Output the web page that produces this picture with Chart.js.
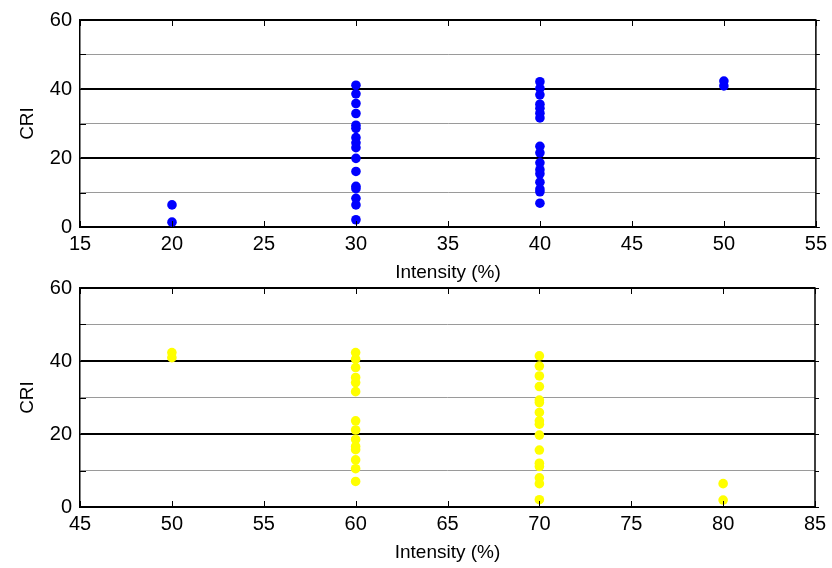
<!DOCTYPE html>
<html>
<head>
<meta charset="utf-8">
<script src="https://cdn.jsdelivr.net/npm/chart.js@4/dist/chart.umd.min.js"></script>
<style>
  body { margin: 0; background: #fff; }
  #wrap { position: relative; width: 832px; height: 568px; }
  .c { position: absolute; left: 0; }
  #c1 { top: 0; }
  #c2 { top: 264px; }
</style>
</head>
<body>
<div id="wrap">
  <div class="c" id="c1" style="width:832px;height:284px"><canvas id="g-top"></canvas></div>
  <div class="c" id="c2" style="width:832px;height:304px"><canvas id="g-bottom"></canvas></div>
</div>
<script>
// datos: CRI por nivel de intensidad
const xTicksTop = [15, 20, 25, 30, 35, 40, 45, 50, 55];
const xTicksBottom = [45, 50, 55, 60, 65, 70, 75, 80, 85];
const yTicks = [0, 10, 20, 30, 40, 50, 60];

// panel superior (azul)
const cri20 = [6.4, 1.4];
const cri30 = [41.1, 38.6, 35.8, 32.9, 29.5, 28.6, 25.9, 24.4, 23.0, 19.9, 16.1, 11.8, 11.1, 8.3, 6.4, 2.1];
const cri40 = [42.1, 40.2, 38.3, 35.6, 34.4, 33.0, 31.6, 23.4, 21.5, 18.6, 16.6, 15.4, 13.0, 11.0, 10.2, 6.9];
const cri50 = [42.3, 40.9];

// panel inferior (amarillo)
const cri50b = [42.3, 40.9];
const cri60 = [42.3, 40.5, 38.2, 35.5, 34.1, 31.6, 23.6, 21.1, 18.5, 16.6, 15.7, 12.9, 10.5, 7.0];
const cri70 = [41.4, 38.6, 35.9, 33.0, 29.3, 28.6, 25.9, 23.6, 22.7, 19.7, 15.6, 12.0, 11.1, 8.0, 6.4, 2.0];
const cri80 = [6.4, 1.9];

function pts(x, arr) { return arr.map(v => ({ x: x, y: v })); }

const bordes = {
  id: "bordes",
  afterDraw(chart) {
    const { ctx, chartArea: a, scales } = chart;
    ctx.save();
    ctx.strokeStyle = "#000";
    ctx.lineWidth = 1.5;
    ctx.beginPath();
    ctx.moveTo(a.left, a.top); ctx.lineTo(a.right, a.top); ctx.lineTo(a.right, a.bottom);
    ctx.stroke();
    ctx.lineWidth = 1;
    ctx.beginPath();
    scales.x.ticks.forEach(t => {
      const px = Math.round(scales.x.getPixelForValue(t.value)) + 0.5;
      ctx.moveTo(px, a.bottom); ctx.lineTo(px, a.bottom - 6);
      ctx.moveTo(px, a.top); ctx.lineTo(px, a.top + 6);
    });
    scales.y.ticks.forEach(t => {
      const py = Math.round(scales.y.getPixelForValue(t.value)) + 0.5;
      ctx.moveTo(a.left, py); ctx.lineTo(a.left + 6, py);
      ctx.moveTo(a.right, py); ctx.lineTo(a.right + 4, py);
    });
    ctx.stroke();
    ctx.restore();
  }
};

function crear(el, datasets, xmin, xmax, pad, xh) {
  return new Chart(document.getElementById(el), {
    type: "scatter",
    data: { datasets: datasets },
    plugins: [bordes],
    options: {
      responsive: true, maintainAspectRatio: false, animation: false,
      layout: { padding: pad },
      plugins: { legend: { display: false }, tooltip: { enabled: false } },
      scales: {
        x: {
          type: "linear", min: xmin, max: xmax,
          afterBuildTicks: s => { s.ticks = (xmin === 15 ? xTicksTop : xTicksBottom).map(v => ({ value: v })); },
          afterFit: s => { s.height = xh; },
          grid: { display: false, drawTicks: false },
          border: { color: "#000", width: 1.5 },
          ticks: { color: "#000", padding: 5, font: { family: "Liberation Sans", size: 20 } },
          title: { display: true, text: "Intensity (%)", color: "#000", padding: { top: 0, bottom: 0 },
                   font: { family: "Liberation Sans", size: 19 } }
        },
        y: {
          min: 0, max: 60,
          afterBuildTicks: s => { s.ticks = yTicks.map(v => ({ value: v })); },
          afterFit: s => { s.width = 80; },
          grid: {
            drawTicks: false,
            color: c => (c.tick && c.tick.value % 20 === 0) ? "#000" : "#9a9a9a",
            lineWidth: c => (c.tick && c.tick.value % 20 === 0) ? 2 : 1
          },
          border: { color: "#000", width: 1.5 },
          ticks: {
            color: "#000", padding: 8, font: { family: "Liberation Sans", size: 20 },
            callback: v => (v % 20 === 0 ? v : "")
          },
          title: { display: true, text: "CRI", color: "#000", padding: { top: 16, bottom: 0 },
                   font: { family: "Liberation Sans", size: 19 } }
        }
      }
    }
  });
}

const azul = "#0000ff", amarillo = "#ffff00";
function ds(data, color) {
  return { data: data, backgroundColor: color, borderWidth: 0, pointRadius: 4.8 };
}

crear("g-top", [
  ds(pts(20, cri20), azul), ds(pts(30, cri30), azul),
  ds(pts(40, cri40), azul), ds(pts(50, cri50), azul)
], 15, 55, { top: 19, right: 13, left: 0, bottom: 0 }, 57);

crear("g-bottom", [
  ds(pts(50, cri50b), amarillo), ds(pts(60, cri60), amarillo),
  ds(pts(70, cri70), amarillo), ds(pts(80, cri80), amarillo)
], 45, 85, { top: 24, right: 17, left: 0, bottom: 4 }, 57);
</script>
</body>
</html>
